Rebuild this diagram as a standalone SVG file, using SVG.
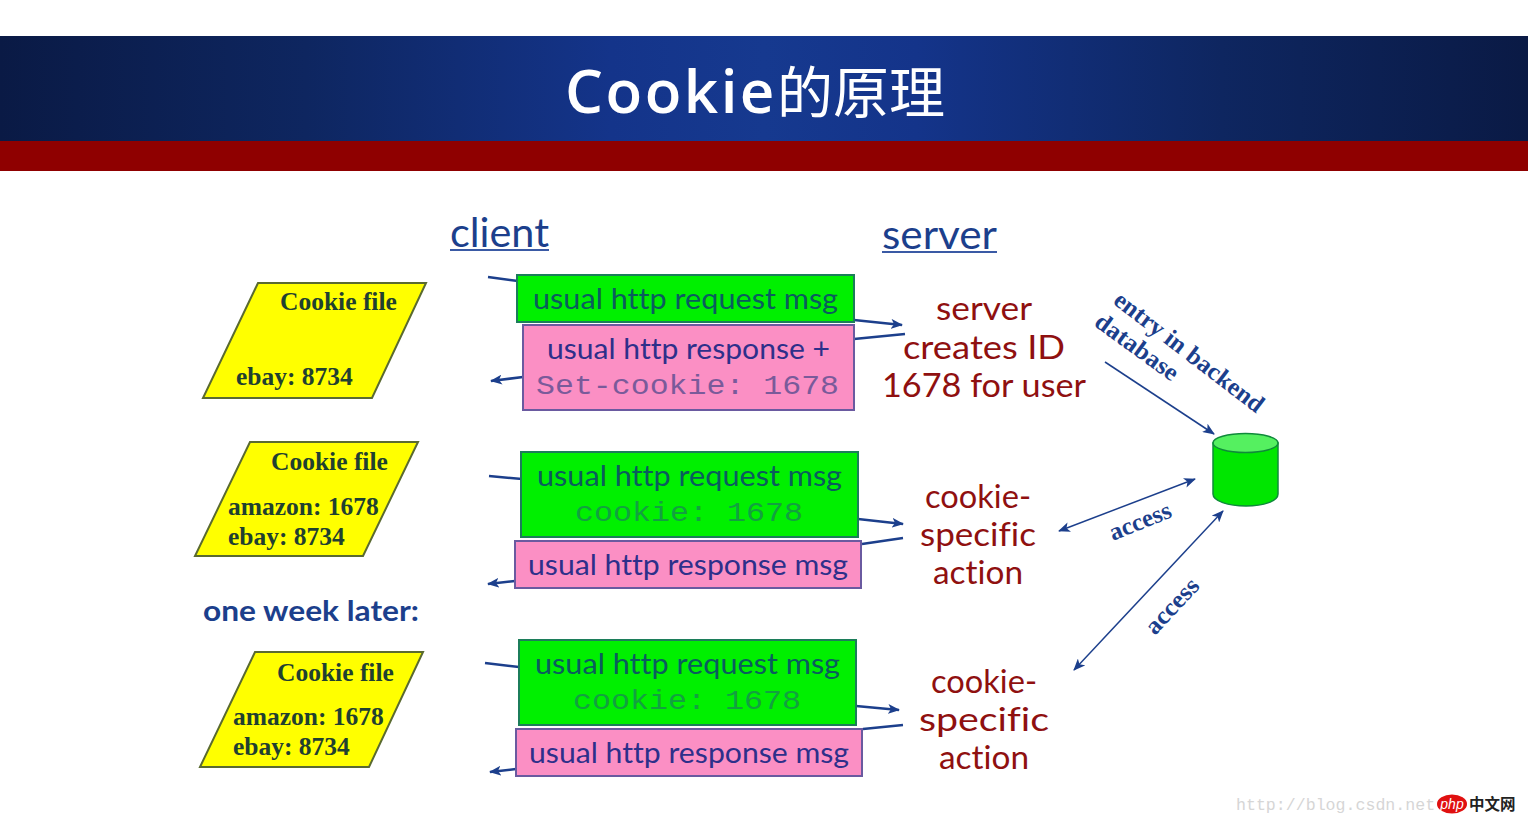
<svg xmlns="http://www.w3.org/2000/svg" width="1528" height="824" viewBox="0 0 1528 824">
<defs>
<linearGradient id="band" x1="0" x2="1" y1="0" y2="0">
<stop offset="0" stop-color="#0a1a45"/><stop offset="0.2" stop-color="#0e2660"/><stop offset="0.4" stop-color="#14348a"/><stop offset="0.5" stop-color="#16398f"/><stop offset="0.6" stop-color="#14348a"/><stop offset="0.8" stop-color="#0e2660"/><stop offset="1" stop-color="#0a1a45"/>
</linearGradient>
<marker id="a" viewBox="0 0 12 10" refX="11" refY="5" markerWidth="12" markerHeight="10" markerUnits="userSpaceOnUse" orient="auto-start-reverse"><path d="M0 0L12 5L0 10L3 5Z" fill="#1c3f8c"/></marker>
</defs>
<style>
text{font-variant-ligatures:none}
.hand{font-family:"Lato","Open Sans",sans-serif}
.green{fill:#0a5c5e}
.pinkt{fill:#2e2f8a}
.red{fill:#8f1010}
.mono{font-family:"Liberation Mono",monospace;font-size:28px}
.file{font-family:"Liberation Serif",serif;font-weight:bold;font-size:25.500px;fill:#1f4030}
.db{font-family:"Liberation Serif",serif;font-weight:bold;font-size:25px;fill:#1c3f8c}
.gbox{fill:#00f000;stroke:#1c7d5a;stroke-width:2}
.pbox{fill:#fb8fc4;stroke:#6a5aa0;stroke-width:2}
.par{fill:#ffff00;stroke:#5a6a30;stroke-width:2}
.c{fill:none;stroke:#1c3f8c;stroke-width:2.500}
.t{fill:none;stroke:#1c3f8c;stroke-width:1.500}
.u{stroke:#3a5aa5;stroke-width:2}
.m{font-size:28px}
.r{font-size:33px}
</style>
<rect width="1528" height="824" fill="#ffffff"/>
<g id="banner">
<rect x="0" y="36" width="1528" height="105" fill="url(#band)"/>
<rect x="0" y="141" width="1528" height="30" fill="#8f0000"/>
<text x="565" y="113" fill="#ffffff"><tspan font-family="'Open Sans',sans-serif" font-weight="600" font-size="60" letter-spacing="2.500">Cookie</tspan><tspan font-family="'Noto Sans CJK SC',sans-serif" font-size="56">的原理</tspan></text>
</g>
<g id="client-label"><text class="hand" x="450" y="247" fill="#1c3f8c" textLength="99" lengthAdjust="spacingAndGlyphs" style="font-size:40px">client</text><line class="u" x1="450" y1="250" x2="549" y2="250"/></g>
<g id="server-label"><text class="hand" x="882" y="249" fill="#1c3f8c" textLength="115" lengthAdjust="spacingAndGlyphs" style="font-size:40px">server</text><line class="u" x1="882" y1="252" x2="997" y2="252"/></g>

<g id="connectors">
<path class="c" d="M488 277L518 281"/>
<path class="c" marker-end="url(#a)" d="M854 320L902 325"/>
<path class="c" d="M854 339L905 334"/>
<path class="c" marker-end="url(#a)" d="M523 377L491 381"/>
<path class="c" d="M489 476L522 479"/>
<path class="c" marker-end="url(#a)" d="M858 519L903 524"/>
<path class="c" d="M862 544L903 538"/>
<path class="c" marker-end="url(#a)" d="M515 581L488 584"/>
<path class="c" d="M485 663L519 667"/>
<path class="c" marker-end="url(#a)" d="M856 706L899 710"/>
<path class="c" d="M863 729L903 725"/>
<path class="c" marker-end="url(#a)" d="M516 769L490 772"/>
<path class="t" marker-end="url(#a)" d="M1105 362L1214 434"/>
<path class="t" marker-start="url(#a)" marker-end="url(#a)" d="M1059 531L1195 479"/>
<path class="t" marker-start="url(#a)" marker-end="url(#a)" d="M1074 670L1223 511"/>
</g>

<g id="file1"><polygon class="par" points="258,283 426,283 372,398 203,398"/><text class="file" x="280" y="310">Cookie file</text><text class="file" x="236" y="385">ebay: 8734</text></g>
<g id="file2"><polygon class="par" points="250,442 418,442 363,556 195,556"/><text class="file" x="271" y="470">Cookie file</text><text class="file" x="228" y="515">amazon: 1678</text><text class="file" x="228" y="545">ebay: 8734</text></g>
<g id="file3"><polygon class="par" points="255,652 423,652 369,767 200,767"/><text class="file" x="277" y="681">Cookie file</text><text class="file" x="233" y="725">amazon: 1678</text><text class="file" x="233" y="755">ebay: 8734</text></g>
<g id="later"><text class="hand" x="203" y="621" fill="#1c3f8c" font-weight="700" textLength="216" lengthAdjust="spacingAndGlyphs" style="font-size:28px">one week later:</text></g>

<g id="req1"><rect class="gbox" x="517" y="275" width="337" height="47"/><text class="hand m green" x="533" y="309" textLength="305" lengthAdjust="spacingAndGlyphs">usual http request msg</text></g>
<g id="res1"><rect class="pbox" x="523" y="325" width="331" height="85"/><text class="hand m pinkt" x="547" y="359" textLength="283" lengthAdjust="spacingAndGlyphs">usual http response +</text><text class="mono" x="536" y="394" fill="#7a5a9a" font-weight="300" textLength="303" lengthAdjust="spacingAndGlyphs">Set-cookie: 1678</text></g>
<g id="req2"><rect class="gbox" x="521" y="452" width="337" height="85"/><text class="hand m green" x="537" y="486" textLength="305" lengthAdjust="spacingAndGlyphs">usual http request msg</text><text class="mono" x="575" y="521" fill="#12a040" textLength="228" lengthAdjust="spacingAndGlyphs">cookie: 1678</text></g>
<g id="res2"><rect class="pbox" x="515" y="541" width="346" height="47"/><text class="hand m pinkt" x="528" y="575" textLength="320" lengthAdjust="spacingAndGlyphs">usual http response msg</text></g>
<g id="req3"><rect class="gbox" x="519" y="640" width="337" height="85"/><text class="hand m green" x="535" y="674" textLength="305" lengthAdjust="spacingAndGlyphs">usual http request msg</text><text class="mono" x="573" y="709" fill="#12a040" textLength="228" lengthAdjust="spacingAndGlyphs">cookie: 1678</text></g>
<g id="res3"><rect class="pbox" x="516" y="729" width="346" height="47"/><text class="hand m pinkt" x="529" y="763" textLength="320" lengthAdjust="spacingAndGlyphs">usual http response msg</text></g>

<g id="action1"><text class="hand r red" x="984" y="320" text-anchor="middle" textLength="96" lengthAdjust="spacingAndGlyphs">server</text><text class="hand r red" x="984" y="359" text-anchor="middle" textLength="162" lengthAdjust="spacingAndGlyphs">creates ID</text><text class="hand r red" x="984" y="397" text-anchor="middle" textLength="204" lengthAdjust="spacingAndGlyphs">1678 for user</text></g>
<g id="action2"><text class="hand r red" x="978" y="508" text-anchor="middle" textLength="106" lengthAdjust="spacingAndGlyphs">cookie-</text><text class="hand r red" x="978" y="546" text-anchor="middle" textLength="116" lengthAdjust="spacingAndGlyphs">specific</text><text class="hand r red" x="978" y="584" text-anchor="middle" textLength="90" lengthAdjust="spacingAndGlyphs">action</text></g>
<g id="action3"><text class="hand r red" x="984" y="693" text-anchor="middle" textLength="106" lengthAdjust="spacingAndGlyphs">cookie-</text><text class="hand r red" x="984" y="731" text-anchor="middle" textLength="130" lengthAdjust="spacingAndGlyphs">specific</text><text class="hand r red" x="984" y="769" text-anchor="middle" textLength="90" lengthAdjust="spacingAndGlyphs">action</text></g>

<g id="database">
<path d="M1213 443V494C1213 501 1228 506 1246 506C1264 506 1278 501 1278 494V443Z" fill="#00e600" stroke="#0f8a3a" stroke-width="1.500"/>
<ellipse cx="1245.500" cy="443" rx="32.500" ry="9.500" fill="#55f060" stroke="#0f8a3a" stroke-width="1.500"/>
</g>
<g id="db-labels">
<text class="db" transform="translate(1112 303) rotate(37.500)" textLength="182" lengthAdjust="spacingAndGlyphs">entry in backend</text>
<text class="db" transform="translate(1093 325) rotate(36)" textLength="97" lengthAdjust="spacingAndGlyphs">database</text>
<text class="db" transform="translate(1113 541) rotate(-22)" textLength="65" lengthAdjust="spacingAndGlyphs">access</text>
<text class="db" transform="translate(1155 636) rotate(-47)" textLength="67" lengthAdjust="spacingAndGlyphs">access</text>
</g>
<g id="watermark">
<text x="1236" y="810" font-family="'Liberation Mono',monospace" font-size="16.600" fill="#d6d6d6">http://blog.csdn.net</text>
<ellipse cx="1452" cy="804" rx="15" ry="9.500" fill="#e01010"/>
<text x="1452" y="809" text-anchor="middle" font-family="'Liberation Sans',sans-serif" font-style="italic" font-size="14" fill="#ffffff">php</text>
<text x="1469" y="810" font-family="'Noto Sans CJK SC',sans-serif" font-size="15.500" font-weight="700" fill="#222222">中文网</text>
</g>
</svg>
